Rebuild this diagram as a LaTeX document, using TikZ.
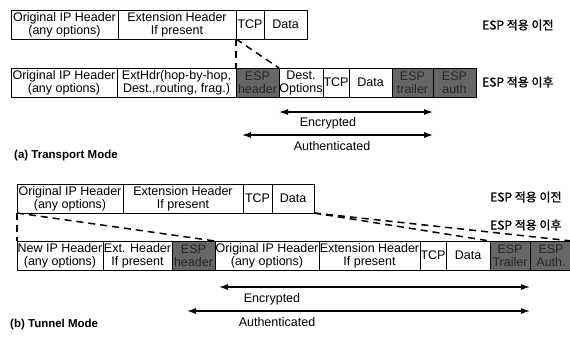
\documentclass[tikz,border=0pt]{standalone}
\usepackage{fontspec}
\setmainfont{Liberation Sans}
\newfontfamily\krfont[FakeBold=1.2]{Noto Sans CJK KR}
\usepackage{tikz}
\usetikzlibrary{positioning,arrows.meta}

\begin{document}
\begin{tikzpicture}[x=1pt,y=-1pt,
                pkt/.style={draw,line width=1pt,minimum height=29pt,inner sep=0pt,outer sep=0pt,
                            align=center,font=\fontsize{12.5}{13}\selectfont},
                esp/.style={pkt,fill=black!60,text=black!85},
                krlbl/.style={anchor=west,inner sep=0pt,font=\krfont\fontsize{12}{13}\selectfont},
                spanlbl/.style={inner sep=0pt,font=\fontsize{12.5}{13}\selectfont},
                modelbl/.style={anchor=west,inner sep=0pt,font=\bfseries\fontsize{11.5}{12}\selectfont},
                span/.style={line width=1.2pt,{Latex[length=9pt,width=6pt]}-{Latex[length=9pt,width=6pt]}},
                mapline/.style={line width=1.5pt,dash pattern=on 7pt off 5pt}
            ]
                \useasboundingbox (0,0) rectangle (570,338);

                % (a) transport mode, before ESP
                \node[pkt,minimum width=107pt,anchor=north west] (tOrig) at (11,10) {Original IP Header\\(any options)};
                \node[pkt,minimum width=118pt,right=0pt of tOrig] (tExt) {Extension Header\\If present};
                \node[pkt,minimum width=28pt,right=0pt of tExt] (tTcp) {TCP};
                \node[pkt,minimum width=43pt,right=0pt of tTcp] (tData) {Data};
                \node[krlbl] (tBefore) at (482,25) {ESP 적용 이전};

                % (a) transport mode, after ESP
                \node[pkt,minimum width=106pt,anchor=north west] (eOrig) at (11,68) {Original IP Header\\(any options)};
                \node[pkt,minimum width=119pt,right=0pt of eOrig] (eExt) {ExtHdr(hop-by-hop,\\Dest.,routing, frag.)};
                \node[esp,minimum width=43pt,right=0pt of eExt] (eEspH) {ESP\\header};
                \node[pkt,minimum width=44pt,right=0pt of eEspH] (eDest) {Dest.\\Options};
                \node[pkt,minimum width=26pt,right=0pt of eDest] (eTcp) {TCP};
                \node[pkt,minimum width=43pt,right=0pt of eTcp] (eData) {Data};
                \node[esp,minimum width=41pt,right=0pt of eData] (eEspT) {ESP\\trailer};
                \node[esp,minimum width=43pt,right=0pt of eEspT] (eEspA) {ESP\\auth};
                \node[krlbl] (tAfter) at (482,82) {ESP 적용 이후};

                \draw[mapline] (tTcp.south west) -- (eEspH.north west);
                \draw[mapline] (tTcp.south west) -- (eDest.north west);

                \draw[span] ([yshift=-15pt]eDest.south west) -- ([yshift=-15pt]eEspT.south east);
                \node[spanlbl] (tEncTxt) at (328,123) {Encrypted};
                \draw[span] ([xshift=6pt,yshift=-38pt]eEspH.south west) -- ([yshift=-38pt]eEspT.south east);
                \node[spanlbl] (tAuthTxt) at (332,146) {Authenticated};

                \node[modelbl] (modeA) at (14,156) {(a) Transport Mode};

                % (b) tunnel mode, before ESP
                \node[pkt,minimum width=106pt,anchor=north west] (uOrig) at (17,184) {Original IP Header\\(any options)};
                \node[pkt,minimum width=120pt,right=0pt of uOrig] (uExt) {Extension Header\\If present};
                \node[pkt,minimum width=29pt,right=0pt of uExt] (uTcp) {TCP};
                \node[pkt,minimum width=42pt,right=0pt of uTcp] (uData) {Data};
                \node[krlbl] (uBefore) at (490,197) {ESP 적용 이전};

                % (b) tunnel mode, after ESP
                \node[pkt,minimum width=86pt,anchor=north west] (nNew) at (17,241) {New IP Header\\(any options)};
                \node[pkt,minimum width=69pt,right=0pt of nNew] (nExt) {Ext. Header\\If present};
                \node[esp,minimum width=43pt,right=0pt of nExt] (nEspH) {ESP\\header};
                \node[pkt,minimum width=104pt,right=0pt of nEspH] (nOrig) {Original IP Header\\(any options)};
                \node[pkt,minimum width=101pt,right=0pt of nOrig] (nExtH) {Extension Header\\If present};
                \node[pkt,minimum width=26pt,right=0pt of nExtH] (nTcp) {TCP};
                \node[pkt,minimum width=44pt,right=0pt of nTcp] (nData) {Data};
                \node[esp,minimum width=40pt,right=0pt of nData] (nEspT) {ESP\\Trailer};
                \node[esp,minimum width=42pt,right=0pt of nEspT] (nEspA) {ESP\\Auth.};
                \node[krlbl] (uAfter) at (490,225) {ESP 적용 이후};

                \draw[mapline] (uOrig.south west) -- (nNew.north west);
                \draw[mapline] (uOrig.south west) -- (nOrig.north west);
                \draw[mapline] (uData.south east) -- (nEspT.north west);
                \draw[mapline] (uData.south east) -- (nEspA.north east);

                \draw[span] ([xshift=4pt,yshift=-17pt]nOrig.south west) -- ([yshift=-17pt]nEspT.south east);
                \node[spanlbl] (uEncTxt) at (272,299) {Encrypted};
                \draw[span] ([xshift=15pt,yshift=-41pt]nEspH.south west) -- ([yshift=-41pt]nEspT.south east);
                \node[spanlbl] (uAuthTxt) at (277,322) {Authenticated};

                \node[modelbl] (modeB) at (10,325) {(b) Tunnel Mode};
            \end{tikzpicture}
\end{document}
